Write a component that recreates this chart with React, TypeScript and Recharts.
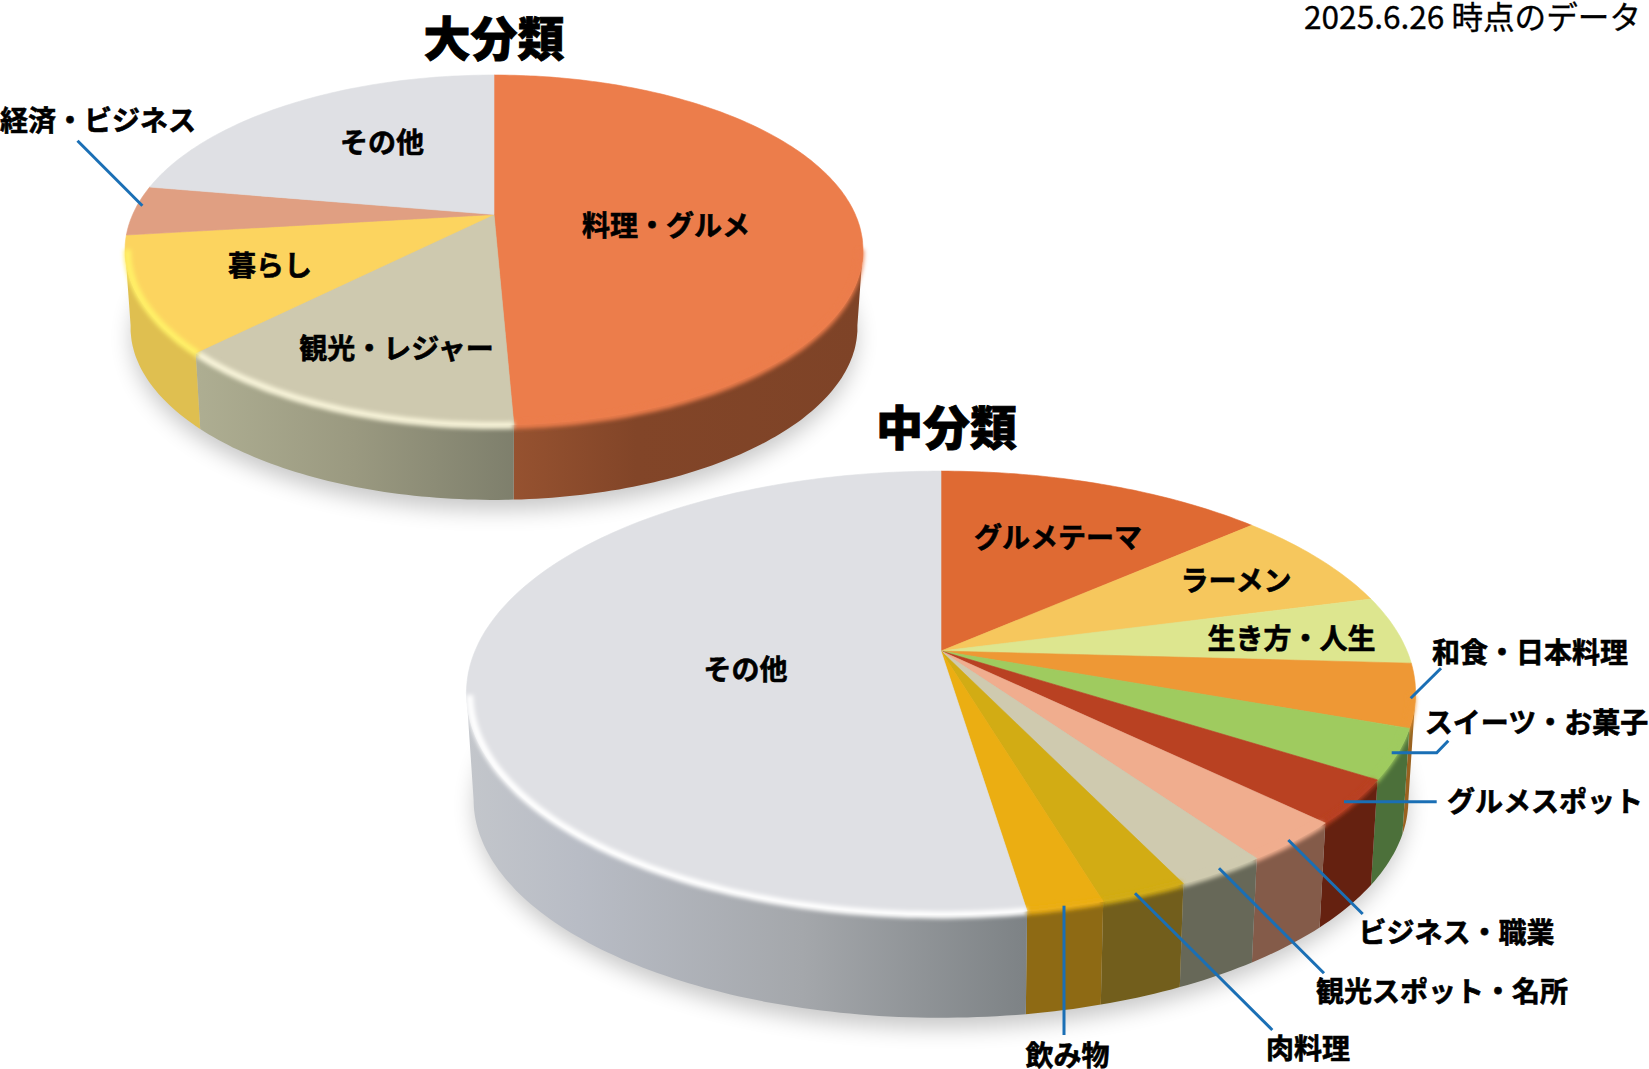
import { PieChart, Pie } from 'recharts';

// 大分類
const majorNames = ['料理・グルメ', '観光・レジャー', '暮らし', '経済・ビジネス', 'その他'];
const majorValues = [49.3, 13.2, 10.6, 4.6, 22.3];
const majorFaces = ['#ec7d4b', '#cec9af', '#fcd45f', '#e09f82', '#dfe0e4'];
const majorWalls = ['url(#wallOrange)', 'url(#wallTan)', '#dfbf50', '#b07f68', '#aeb0b5'];
const majorRims = ['#ec7d4b', '#f7f3d8', '#fff066', '#e8a88a', '#ffffff'];

// 中分類
const midNames = [
  'グルメテーマ', 'ラーメン', '生き方・人生', '和食・日本料理', 'スイーツ・お菓子', 'グルメスポット',
  'ビジネス・職業', '観光スポット・名所', '肉料理', '飲み物', 'その他',
];
const midValues = [13.5, 7.4, 5.0, 4.6, 3.6, 3.2, 3.0, 2.6, 2.5, 2.2, 52.4];
const midFaces = [
  '#df6a33', '#f6c75d', '#dde68f', '#ee9835', '#9fcb5f', '#b94122',
  '#f0ad8e', '#cfcaaf', '#d2ac14', '#ebae12', '#dfe0e4',
];
const midWalls = [
  '#8a4420', '#9a7c38', '#8a9058', '#9a6220', '#4c703a', '#652110',
  '#845b49', '#676858', '#725e1c', '#8e6a14', 'url(#wallGrey)',
];
const midRims = [
  '#df6a33', '#f6c75d', '#dde68f', '#ee9835', '#9fcb5f', '#b94122',
  '#f0ad8e', '#cfcaaf', '#d2ac14', '#ebae12', '#ffffff',
];

const toRows = (names: string[], values: number[], faces: string[], walls: string[], rims: string[]) =>
  names.map((name, i) => ({ name, value: values[i], fill: faces[i], wall: walls[i], rim: rims[i] }));

const majorData = toRows(majorNames, majorValues, majorFaces, majorWalls, majorRims);
const midData = toRows(midNames, midValues, midFaces, midWalls, midRims);

// 透視の設定: tilt は楕円のつぶれ、persp は手前の広がり
const MAJOR_VIEW = { tilt: 0.4644, persp: 0.203, drop: 78, shrink: 0.985 };
const MID_VIEW = { tilt: 0.459, persp: 0.189, drop: 107, shrink: 0.985 };

// 側面が見える範囲(上から時計回りの角度)
const WALL_FROM = 101;
const WALL_TO = 259;

type View = typeof MAJOR_VIEW;

const project = (p: any, view: View, deg: number, scale = 1, drop = 0) => {
  const t = (deg * Math.PI) / 180;
  const x = Math.sin(t);
  const y = -Math.cos(t);
  const w = 1 - view.persp * y;
  return [
    p.cx + (scale * p.outerRadius * x) / w,
    p.cy + drop + (scale * view.tilt * p.outerRadius * y) / w,
  ];
};

const arcPoints = (p: any, view: View, from: number, to: number, scale = 1, drop = 0) => {
  const pts: number[][] = [];
  const steps = Math.max(2, Math.ceil(Math.abs(to - from)));
  for (let i = 0; i <= steps; i++) {
    pts.push(project(p, view, from + ((to - from) * i) / steps, scale, drop));
  }
  return pts;
};

const toPath = (pts: number[][]) => pts.map((q, i) => `${i ? 'L' : 'M'}${q[0].toFixed(1)} ${q[1].toFixed(1)}`).join('');

// recharts の角度(反時計回り・右が0)を上から時計回りに直す
const sweep = (p: any) => [90 - p.startAngle, 90 - p.endAngle];

const makeWall = (view: View) => (p: any) => {
  const [a, b] = sweep(p);
  const from = Math.max(a, WALL_FROM);
  const to = Math.min(b, WALL_TO);
  if (to <= from) return <g />;
  const top = arcPoints(p, view, from, to);
  const bottom = arcPoints(p, view, to, from, view.shrink, view.drop);
  return <path d={toPath(top.concat(bottom)) + 'Z'} fill={p.payload.wall} stroke="none" />;
};

const makeFace = (view: View) => (p: any) => {
  const [a, b] = sweep(p);
  const rim = arcPoints(p, view, a, b);
  const from = Math.max(a, WALL_FROM);
  const to = Math.min(b, WALL_TO);
  return (
    <g>
      <path d={`M${p.cx} ${p.cy}` + toPath(rim).replace('M', 'L') + 'Z'} fill={p.fill} stroke={p.fill} strokeWidth={0.6} />
      {to > from && (
        <path
          d={toPath(arcPoints(p, view, from, to, 0.993, 2))}
          fill="none"
          stroke={p.payload.rim}
          strokeWidth={7}
          filter="url(#soft)"
        />
      )}
    </g>
  );
};

const labels = [
  { text: '料理・グルメ', x: 666, y: 223.5 },
  { text: '観光・レジャー', x: 396.5, y: 346.5 },
  { text: '暮らし', x: 270, y: 263.5 },
  { text: '経済・ビジネス', x: 98, y: 118.5 },
  { text: 'その他', x: 382, y: 140.5 },
  { text: 'グルメテーマ', x: 1058, y: 536 },
  { text: 'ラーメン', x: 1236, y: 579 },
  { text: '生き方・人生', x: 1291.5, y: 637 },
  { text: '和食・日本料理', x: 1530, y: 650.5 },
  { text: 'スイーツ・お菓子', x: 1536.5, y: 721 },
  { text: 'グルメスポット', x: 1545, y: 800 },
  { text: 'ビジネス・職業', x: 1456.5, y: 930.5 },
  { text: '観光スポット・名所', x: 1442, y: 989.5 },
  { text: '肉料理', x: 1308, y: 1047 },
  { text: '飲み物', x: 1067.5, y: 1053.5 },
  { text: 'その他', x: 745.5, y: 667.5 },
];

const leaders = [
  '77.5,140.7 142.4,205.7',
  '1441,668.3 1410.7,698.3',
  '1448.3,740.7 1436.7,752.7 1391.7,752.7',
  '1436.7,801.7 1344,801.7',
  '1362.7,914 1288.3,840',
  '1324,973.3 1219,868.3',
  '1272.3,1030 1135,893.3',
  '1064,1035 1064,905.7',
];

const FONT = '"Noto Sans CJK JP", "Noto Sans", sans-serif';
const layer = { position: 'absolute', left: 0, top: 0 } as const;

export default function App() {
  return (
    <div style={{ ...layer, width: 1649, height: 1069, background: '#fff', overflow: 'hidden' }}>
      <svg width={1649} height={1069} style={layer}>
        <defs>
          <linearGradient id="wallOrange" x1="0" x2="1" y1="0" y2="0">
            <stop offset="0" stopColor="#965230" />
            <stop offset="0.35" stopColor="#824528" />
            <stop offset="1" stopColor="#7e4327" />
          </linearGradient>
          <linearGradient id="wallTan" x1="0" x2="1" y1="0" y2="0">
            <stop offset="0" stopColor="#aeae92" />
            <stop offset="0.5" stopColor="#9a9980" />
            <stop offset="1" stopColor="#7e7f6c" />
          </linearGradient>
          <linearGradient id="wallGrey" x1="0" x2="1" y1="0" y2="0">
            <stop offset="0" stopColor="#c3c6cb" />
            <stop offset="0.2" stopColor="#b8bcc5" />
            <stop offset="0.6" stopColor="#a4a7ab" />
            <stop offset="1" stopColor="#7d8285" />
          </linearGradient>
          <filter id="soft" filterUnits="userSpaceOnUse" x="0" y="0" width="1649" height="1069">
            <feGaussianBlur stdDeviation="2.2" />
          </filter>
          <filter id="shadow" filterUnits="userSpaceOnUse" x="0" y="0" width="1649" height="1069">
            <feGaussianBlur stdDeviation="11" />
          </filter>
        </defs>
        <ellipse cx={494} cy={338} rx={362} ry={172} fill="#000" opacity={0.22} filter="url(#shadow)" />
        <ellipse cx={941} cy={806} rx={466} ry={222} fill="#000" opacity={0.22} filter="url(#shadow)" />
      </svg>

      <div style={layer}>
        <PieChart width={1649} height={1069} margin={{ top: 0, right: 0, bottom: 0, left: 0 }}>
          <Pie data={majorData} dataKey="value" nameKey="name" cx={494} cy={214.5} outerRadius={361.3} startAngle={90} endAngle={-270} stroke="none" shape={makeWall(MAJOR_VIEW)} isAnimationActive={false} />
          <Pie data={majorData} dataKey="value" nameKey="name" cx={494} cy={214.5} outerRadius={361.3} startAngle={90} endAngle={-270} stroke="none" shape={makeFace(MAJOR_VIEW)} isAnimationActive={false} />
          <Pie data={midData} dataKey="value" nameKey="name" cx={941} cy={651} outerRadius={466} startAngle={90} endAngle={-270} stroke="none" shape={makeWall(MID_VIEW)} isAnimationActive={false} />
          <Pie data={midData} dataKey="value" nameKey="name" cx={941} cy={651} outerRadius={466} startAngle={90} endAngle={-270} stroke="none" shape={makeFace(MID_VIEW)} isAnimationActive={false} />
        </PieChart>
      </div>

      <svg width={1649} height={1069} style={{ ...layer, fontFamily: FONT }}>
        {leaders.map((pts) => (
          <polyline key={pts} points={pts} fill="none" stroke="#1a6fb5" strokeWidth={3} />
        ))}
        {labels.map((l) => (
          <text key={l.text + l.x} x={l.x} y={l.y} fontSize={28} fontWeight={700} textAnchor="middle" dominantBaseline="central" fill="#000" stroke="#000" strokeWidth={0.6}>
            {l.text}
          </text>
        ))}
        <text x={494} y={35} fontSize={47} fontWeight={900} textAnchor="middle" dominantBaseline="central" stroke="#000" strokeWidth={0.8}>大分類</text>
        <text x={946.5} y={424} fontSize={47} fontWeight={900} textAnchor="middle" dominantBaseline="central" stroke="#000" strokeWidth={0.8}>中分類</text>
        <text x={1641} y={15} fontSize={31.6} textAnchor="end" dominantBaseline="central" stroke="#000" strokeWidth={0.3}>2025.6.26 時点のデータ</text>
      </svg>
    </div>
  );
}
